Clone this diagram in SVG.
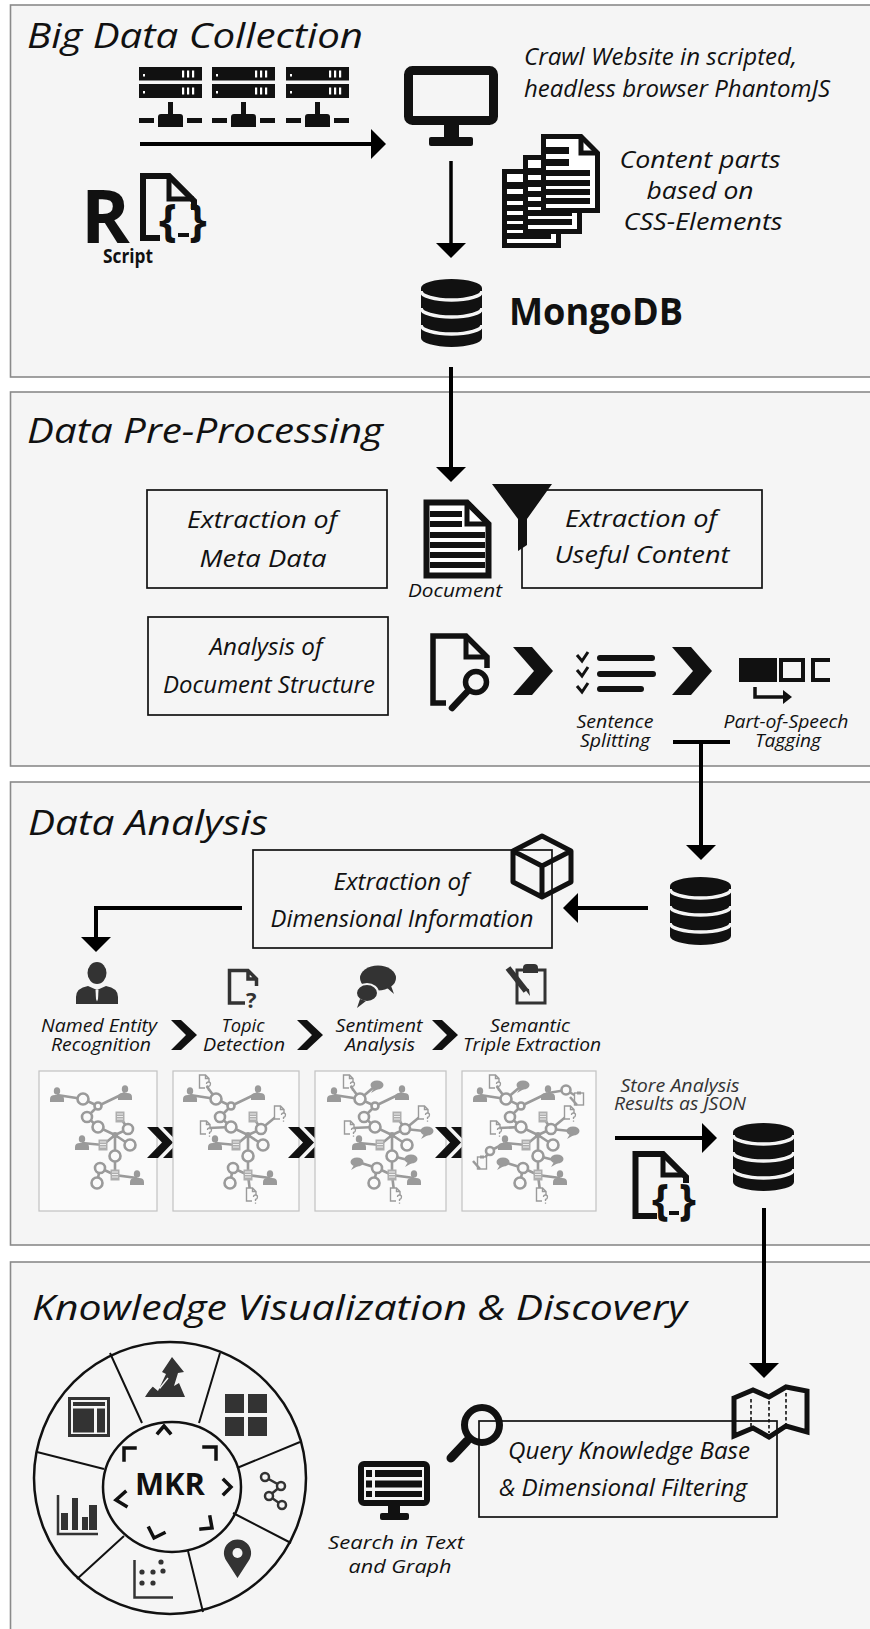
<svg xmlns="http://www.w3.org/2000/svg" width="870" height="1629" viewBox="0 0 870 1629">
<style>
text{font-family:"Open Sans","Liberation Sans",sans-serif;fill:#111}
.sec{fill:#f5f5f5;stroke:#8a8a8a;stroke-width:1.6}
.ttl{font-style:italic;font-size:35px}
.lb{font-style:italic;font-size:23px}
.sm{font-style:italic;font-size:19px}
.c{text-anchor:middle}
.b{font-weight:700;font-style:normal}
.box{fill:none;stroke:#111;stroke-width:1.7}
.conn{fill:none;stroke:#000;stroke-width:4}
.k{fill:#111}
.g{fill:#333}
.ko{fill:none;stroke:#111}
.go{fill:none;stroke:#333}
.thumb{fill:#fafafa;stroke:#c2c2c2;stroke-width:1.2}
.edge{fill:none;stroke:#9a9a9a;stroke-width:2.6}
.ring{fill:#fafafa;stroke:#9a9a9a;stroke-width:2.6}
.gi{fill:#9a9a9a}
.gio{fill:#fafafa;stroke:#9a9a9a;stroke-width:1.4}
.spoke{fill:none;stroke:#111;stroke-width:2}
.tip{fill:none;stroke:#111;stroke-width:3.5;stroke-linecap:square}
</style>
<defs>
  <marker id="ah" markerUnits="userSpaceOnUse" markerWidth="15" markerHeight="30" viewBox="0 0 15 30" refX="0" refY="15" orient="auto">
    <path d="M0,0 L15,15 L0,30 Z" fill="#000"/>
  </marker>
  <!-- rack server with network tap -->
  <g id="srv">
    <rect width="63" height="13.5" class="k"/>
    <rect y="17" width="63" height="14" class="k"/>
    <g fill="#fff">
      <rect x="4" y="7" width="2" height="2.5"/><rect x="4" y="24" width="2" height="2.5"/>
      <rect x="43" y="3.5" width="2.2" height="7"/><rect x="48" y="3.5" width="2.2" height="7"/><rect x="53" y="3.5" width="2.2" height="7"/>
      <rect x="43" y="20.5" width="2.2" height="7"/><rect x="48" y="20.5" width="2.2" height="7"/><rect x="53" y="20.5" width="2.2" height="7"/>
    </g>
    <rect x="29" y="35" width="5" height="12" class="k"/>
    <path d="M19,60 V50 Q19,47 22,47 H41 Q44,47 44,50 V60 Z" class="k"/>
    <rect y="51" width="15" height="5" class="k"/>
    <rect x="48" y="51" width="15" height="5" class="k"/>
  </g>
  <!-- database cylinder -->
  <g id="db">
    <path d="M0,9 A30.5,9 0 0 1 61,9 V59 A30.5,9 0 0 1 0,59 Z" fill="#111"/>
    <path d="M0,12 A30.5,9 0 0 0 61,12 M0,29 A30.5,9 0 0 0 61,29 M0,46 A30.5,9 0 0 0 61,46" fill="none" stroke="#f5f5f5" stroke-width="3.5"/>
  </g>
  <!-- page with text bars -->
  <g id="pdoc">
    <path d="M2.5,2.5 H40 L56.5,19 V76.5 H2.5 Z" fill="#fff" stroke="#111" stroke-width="5"/>
    <path d="M40,2.5 V19 H56.5" fill="none" stroke="#111" stroke-width="5"/>
    <g class="k">
      <rect x="2" y="13" width="26" height="7"/><rect x="2" y="25" width="26" height="7"/>
      <rect x="2" y="36" width="47" height="6"/><rect x="2" y="46" width="47" height="6"/>
      <rect x="2" y="55" width="47" height="6"/><rect x="2" y="64" width="47" height="6"/>
    </g>
  </g>
  <path id="chevL" d="M0,0 H19 L40,24 L19,48 H0 L21,24 Z"/>
  <path id="chevS" d="M0,0 H10 L26,15 L10,30 H0 L15,15 Z"/>
  <g id="chevD"><path d="M0,0 H11 L26,15.5 L11,31 H0 L15,15.5 Z"/><path d="M16,0 H27 L42,15.5 L27,31 H16 L31,15.5 Z"/></g>
  <!-- small graph glyphs -->
  <g id="tp" class="gi"><ellipse cx="0" cy="-4" rx="3.2" ry="3.8"/><path d="M-7,7 V4 Q-7,0 -2,0 H2 Q7,0 7,4 V7 Z"/></g>
  <g id="td"><rect x="-4.5" y="-5.5" width="9" height="11" fill="#aeaeae"/><path d="M-3,-3 H3 M-3,-0.5 H3 M-3,2 H3" stroke="#eee" stroke-width="1"/></g>
  <g id="tq"><path d="M1,6 H-4.5 V-7 H1.5 L5,-3.5 V0 M1.5,-7 V-3.5 H5" class="gio"/><path d="M2.5,2 Q2.5,0 4.5,0 Q6.5,0 6.5,2 Q6.5,4 4.5,4.5 V6 M4.5,7.5 V8.8" stroke="#9a9a9a" stroke-width="1.3" fill="none"/></g>
  <g id="tb" class="gi"><ellipse cx="0" cy="0" rx="6.5" ry="4.5"/><path d="M-3,3 L-6,8 L1,4 Z"/></g>
  <g id="tc"><rect x="-4.5" y="-6" width="9" height="12" class="gio"/><rect x="-2" y="-7.5" width="4" height="3" class="gi"/><path d="M-9,-2 L-2,6" stroke="#9a9a9a" stroke-width="2.5"/></g>
  <!-- entity graph used in each analysis stage -->
  <g id="gbase">
    <path class="edge" d="M18,24 L44,28 L59,35 L86,22 M59,35 L48,46 L59,56 L76,64 L89,58 L81,46 M76,64 L91,74 M76,64 L64,74 L43,72 M76,64 L76,85 L76,104 L98,107 M76,104 L61,97 L58,112"/>
    <circle class="ring" cx="44" cy="28" r="5.5"/>
    <circle class="ring" cx="59" cy="35" r="3.5"/>
    <circle class="ring" cx="48" cy="46" r="5"/>
    <circle class="ring" cx="59" cy="56" r="5.5"/>
    <circle class="ring" cx="89" cy="58" r="5"/>
    <circle class="ring" cx="91" cy="74" r="5.5"/>
    <circle class="ring" cx="76" cy="85" r="5.5"/>
    <circle class="ring" cx="61" cy="97" r="5"/>
    <circle class="ring" cx="58" cy="112" r="5.5"/>
    <circle class="gi" cx="76" cy="64" r="3"/>
    <use href="#tp" x="18" y="24"/><use href="#tp" x="86" y="22"/><use href="#tp" x="43" y="72"/><use href="#tp" x="98" y="107"/>
    <use href="#td" x="81" y="46"/><use href="#td" x="64" y="74"/><use href="#td" x="76" y="104"/>
  </g>
  <g id="gtopic">
    <path class="edge" d="M44,28 L33,13 M89,58 L106,44 M59,56 L37,57 M76,104 L78,120" stroke-width="1.6"/>
    <use href="#tq" x="32" y="11"/><use href="#tq" x="107" y="42"/><use href="#tq" x="33" y="57"/><use href="#tq" x="79" y="124"/>
  </g>
  <g id="gsent">
    <path class="edge" d="M44,28 L58,16 M89,58 L108,60 M61,97 L45,92 M76,85 L92,89" stroke-width="1.6"/>
    <use href="#tb" x="61" y="14"/><use href="#tb" x="111" y="60"/><use href="#tb" x="41" y="91"/><use href="#tb" x="95" y="88"/>
  </g>
</defs>

<!-- stage panels -->
<g id="panels">
  <rect class="sec" x="10.5" y="5" width="870" height="372"/>
  <rect class="sec" x="10.5" y="392" width="870" height="374"/>
  <rect class="sec" x="10.5" y="782" width="870" height="463"/>
  <rect class="sec" x="10.5" y="1262" width="870" height="400"/>
  <text class="ttl" x="27" y="48" font-size="34" textLength="336" lengthAdjust="spacingAndGlyphs">Big Data Collection</text>
  <text class="ttl" x="27" y="443" textLength="356" lengthAdjust="spacingAndGlyphs">Data Pre-Processing</text>
  <text class="ttl" x="28" y="835" textLength="240" lengthAdjust="spacingAndGlyphs">Data Analysis</text>
  <text class="ttl" x="32" y="1320" textLength="655" lengthAdjust="spacingAndGlyphs">Knowledge Visualization &amp; Discovery</text>
</g>

<!-- ===== Big Data Collection ===== -->
<g id="servers">
  <use href="#srv" x="139" y="67"/>
  <use href="#srv" x="212" y="67"/>
  <use href="#srv" x="286" y="67"/>
</g>
<g id="r-script">
  <text x="81" y="243" class="b" font-size="74">R</text>
  <text x="103" y="263" class="b" font-size="19" textLength="50" lengthAdjust="spacingAndGlyphs">Script</text>
  <path d="M160,238 H143 V176 H169 L194,201 V210" class="ko" stroke-width="6"/>
  <path d="M169,176 V199 H194" class="ko" stroke-width="5"/>
  <text x="159" y="236" class="b" font-size="45">{</text>
  <text x="189" y="236" class="b" font-size="45">}</text>
  <rect x="178" y="233" width="11" height="4" class="k"/>
</g>
<g id="browser">
  <rect x="408.5" y="70.5" width="85" height="50" rx="4" fill="none" stroke="#111" stroke-width="9"/>
  <rect x="444" y="125" width="15" height="13" class="k"/>
  <rect x="429" y="137" width="44" height="9" rx="2" class="k"/>
  <text class="lb" x="524" y="65" textLength="273" lengthAdjust="spacingAndGlyphs">Crawl Website in scripted,</text>
  <text class="lb" x="524" y="97" textLength="306" lengthAdjust="spacingAndGlyphs">headless browser PhantomJS</text>
</g>
<g id="content-parts">
  <use href="#pdoc" x="502" y="169"/>
  <use href="#pdoc" x="523" y="155"/>
  <use href="#pdoc" x="541" y="134"/>
  <text class="lb c" x="700" y="168" textLength="161" lengthAdjust="spacingAndGlyphs">Content parts</text>
  <text class="lb c" x="700" y="199" textLength="107" lengthAdjust="spacingAndGlyphs">based on</text>
  <text class="lb c" x="703" y="230" textLength="159" lengthAdjust="spacingAndGlyphs">CSS-Elements</text>
</g>
<g id="mongodb">
  <use href="#db" x="421" y="279"/>
  <text x="509" y="325" class="b" font-size="38" textLength="174" lengthAdjust="spacingAndGlyphs">MongoDB</text>
</g>

<!-- ===== Data Pre-Processing ===== -->
<g id="meta-data">
  <rect class="box" x="147" y="490" width="240" height="98"/>
  <text class="lb c" x="262" y="528" textLength="150" lengthAdjust="spacingAndGlyphs">Extraction of</text>
  <text class="lb c" x="263" y="567" textLength="127" lengthAdjust="spacingAndGlyphs">Meta Data</text>
</g>
<g id="doc-structure">
  <rect class="box" x="148" y="617" width="240" height="98"/>
  <text class="lb c" x="266" y="655" textLength="113" lengthAdjust="spacingAndGlyphs">Analysis of</text>
  <text class="lb c" x="269" y="693" textLength="212" lengthAdjust="spacingAndGlyphs">Document Structure</text>
</g>
<g id="document">
  <path d="M426.5,502.5 H467 L488.5,524 V575.5 H426.5 Z" fill="#fff" stroke="#111" stroke-width="6"/>
  <path d="M467,502 V524 H489" fill="none" stroke="#111" stroke-width="5"/>
  <g class="k">
    <rect x="430" y="511" width="32" height="6"/><rect x="430" y="521" width="32" height="6"/>
    <rect x="430" y="532" width="55" height="6"/><rect x="430" y="542" width="55" height="6"/>
    <rect x="430" y="552" width="55" height="6"/><rect x="430" y="562" width="55" height="6"/>
  </g>
  <text class="sm" x="408" y="597" textLength="94" lengthAdjust="spacingAndGlyphs">Document</text>
</g>
<g id="useful-content">
  <rect class="box" x="522" y="490" width="240" height="98"/>
  <text class="lb c" x="641" y="527" textLength="152" lengthAdjust="spacingAndGlyphs">Extraction of</text>
  <text class="lb c" x="642" y="563" textLength="175" lengthAdjust="spacingAndGlyphs">Useful Content</text>
  <path d="M492,484 H552 L527,519 V545 L518,551 V519 Z" class="k"/>
</g>
<g id="structure-steps">
  <path d="M446,703 H433 V636 H466 L487,657 V668" class="ko" stroke-width="5.5"/>
  <path d="M466,636 V657 H487" class="ko" stroke-width="5"/>
  <circle cx="476" cy="682" r="10.5" class="ko" stroke-width="5.5"/>
  <path d="M467,692 L452,708" stroke="#111" stroke-width="6.5" stroke-linecap="round"/>
  <use href="#chevL" x="513" y="647" fill="#111"/>
  <path d="M577,655 L582,661 L588,652 M577,670 L582,676 L588,667 M577,686 L582,692 L588,683" class="ko" stroke-width="3"/>
  <path d="M600,658 H652 M600,674 H653 M600,689 H641" stroke="#111" stroke-width="6" stroke-linecap="round"/>
  <use href="#chevL" x="672" y="647" fill="#111"/>
  <rect x="739" y="658" width="38" height="24" class="k"/>
  <rect x="781" y="660" width="22" height="20" class="ko" stroke-width="4"/>
  <path d="M830,660 H813 V680 H830" class="ko" stroke-width="4"/>
  <path d="M755,687 V697 H784" class="ko" stroke-width="3.5"/>
  <path d="M783,690 L792,697 L783,704 Z" class="k"/>
  <text class="sm c" x="615" y="728" textLength="77" lengthAdjust="spacingAndGlyphs">Sentence</text>
  <text class="sm c" x="615" y="747" textLength="70" lengthAdjust="spacingAndGlyphs">Splitting</text>
  <text class="sm c" x="786" y="728" textLength="125" lengthAdjust="spacingAndGlyphs">Part-of-Speech</text>
  <text class="sm c" x="788" y="747" textLength="66" lengthAdjust="spacingAndGlyphs">Tagging</text>
</g>

<!-- ===== Data Analysis ===== -->
<g id="dimensional">
  <rect class="box" x="253" y="850" width="299" height="98"/>
  <text class="lb c" x="401" y="890" font-size="22" textLength="135" lengthAdjust="spacingAndGlyphs">Extraction of</text>
  <text class="lb c" x="402" y="927" font-size="22" textLength="263" lengthAdjust="spacingAndGlyphs">Dimensional Information</text>
  <path d="M542,836 L571,851 V882 L542,897 L513,882 V851 Z M513,851 L542,866 L571,851 M542,866 V897" fill="none" stroke="#111" stroke-width="5" stroke-linejoin="round"/>
</g>
<g id="db-processed"><use href="#db" x="670" y="877"/></g>
<g id="steps">
  <ellipse cx="97" cy="973" rx="9.5" ry="11" class="g"/>
  <path d="M76,1004 V997 Q76,988 88,986 L97,990 L106,986 Q118,988 118,997 V1004 Z" class="g"/>
  <path d="M95.5,990 H98.5 L98,999 L97,1001.5 L96,999 Z" fill="#f5f5f5"/>
  <path d="M245,1003 H229.5 V970.5 H248 L256.5,979 V986 M248,970.5 V979 H256.5" class="go" stroke-width="3.5"/>
  <text x="246" y="1008" class="b" font-size="22" style="fill:#333">?</text>
  <ellipse cx="378" cy="978" rx="18" ry="12.5" class="g"/>
  <path d="M386,987 L394,994 L390,983 Z" class="g"/>
  <ellipse cx="367" cy="993" rx="11" ry="9" class="g" stroke="#f5f5f5" stroke-width="2"/>
  <path d="M360,999 L357,1008 L366,1001 Z" class="g"/>
  <rect x="517" y="970" width="28" height="33" class="go" stroke-width="3"/>
  <path d="M523,973 V968 Q523,964 527,964 H534 Q538,964 538,968 V973 Z" class="g"/>
  <path d="M508,968 L526,991" stroke="#333" stroke-width="6"/>
  <path d="M524,988 L530,996 L529,989 Z" class="g"/>
  <text class="sm c" x="99" y="1032" textLength="116" lengthAdjust="spacingAndGlyphs">Named Entity</text>
  <text class="sm c" x="101" y="1051" textLength="100" lengthAdjust="spacingAndGlyphs">Recognition</text>
  <use href="#chevS" x="171" y="1020" fill="#111"/>
  <text class="sm c" x="243" y="1032" textLength="43" lengthAdjust="spacingAndGlyphs">Topic</text>
  <text class="sm c" x="244" y="1051" textLength="82" lengthAdjust="spacingAndGlyphs">Detection</text>
  <use href="#chevS" x="297" y="1020" fill="#111"/>
  <text class="sm c" x="379" y="1032" textLength="87" lengthAdjust="spacingAndGlyphs">Sentiment</text>
  <text class="sm c" x="380" y="1051" textLength="70" lengthAdjust="spacingAndGlyphs">Analysis</text>
  <use href="#chevS" x="432" y="1020" fill="#111"/>
  <text class="sm c" x="530" y="1032" textLength="80" lengthAdjust="spacingAndGlyphs">Semantic</text>
  <text class="sm c" x="532" y="1051" textLength="138" lengthAdjust="spacingAndGlyphs">Triple Extraction</text>
</g>
<g id="graph-stages">
  <rect class="thumb" x="39" y="1071" width="118" height="140"/>
  <use href="#gbase" x="39" y="1071"/>
  <use href="#chevD" x="147" y="1127" fill="#111"/>
  <rect class="thumb" x="173" y="1071" width="126" height="140"/>
  <g transform="translate(172,1071)"><use href="#gtopic"/><use href="#gbase"/></g>
  <use href="#chevD" x="288" y="1127" fill="#111"/>
  <rect class="thumb" x="315" y="1071" width="131" height="140"/>
  <g transform="translate(316,1071)"><use href="#gtopic"/><use href="#gsent"/><use href="#gbase"/></g>
  <use href="#chevD" x="435" y="1127" fill="#111"/>
  <rect class="thumb" x="462" y="1071" width="134" height="140"/>
  <g transform="translate(462,1071)">
    <use href="#gtopic"/><use href="#gsent"/>
    <path class="edge" d="M86,22 L104,19 L114,25 M43,72 L28,80 L22,88" stroke-width="1.6"/>
    <circle class="ring" cx="104" cy="19" r="4.5"/>
    <circle class="ring" cx="28" cy="80" r="4"/>
    <use href="#tc" x="117" y="28"/><use href="#tc" x="20" y="92"/>
    <use href="#gbase"/>
  </g>
</g>
<g id="store-json">
  <text class="sm c" x="680" y="1092" font-size="18" style="fill:#333" textLength="119" lengthAdjust="spacingAndGlyphs">Store Analysis</text>
  <text class="sm c" x="680" y="1110" font-size="18" style="fill:#333" textLength="132" lengthAdjust="spacingAndGlyphs">Results as JSON</text>
  <path d="M657,1216 H635.5 V1154 H663 L686,1177 V1183" class="ko" stroke-width="6"/>
  <path d="M663,1154 V1175 H686" class="ko" stroke-width="5"/>
  <text x="652" y="1215" class="b" font-size="43">{</text>
  <text x="679" y="1215" class="b" font-size="43">}</text>
  <rect x="669" y="1211" width="10" height="4" class="k"/>
</g>
<g id="db-results"><use href="#db" x="733" y="1123"/></g>

<!-- ===== Knowledge Visualization & Discovery ===== -->
<g id="mkr-wheel">
  <circle cx="170" cy="1478" r="136" fill="none" stroke="#111" stroke-width="2.5"/>
  <ellipse cx="172" cy="1487" rx="69" ry="65" fill="none" stroke="#111" stroke-width="2.5"/>
  <path class="spoke" d="M110,1353 L142,1423 M220,1353 L199,1423 M300,1442 L237,1468 M291,1543 L233,1513 M203,1612 L188,1551 M77,1579 L124,1536 M37,1452 L104,1469"/>
  <text x="170" y="1495" class="b c" font-size="31" textLength="70" lengthAdjust="spacingAndGlyphs">MKR</text>
  <path class="tip" d="M158,1433 L164,1426 L170,1433 M124,1460 V1448 H135 M204,1447 H216 V1459 M224,1480 L231,1487 L224,1494 M210,1517 L212,1528 L201,1529 M149,1528 L154,1538 L164,1533 M125,1492 L116,1500 L126,1506"/>
  <rect x="69.5" y="1398.5" width="39" height="37" class="go" stroke-width="3"/>
  <rect x="73" y="1402" width="32" height="4" class="g"/>
  <rect x="73" y="1408.5" width="21" height="24" class="g"/>
  <rect x="97" y="1408.5" width="8" height="24" class="g"/>
  <path d="M145,1397 L152,1386 L158,1391 L166,1374 L162,1372 L172,1357 L184,1372 L178,1373 L174,1386 L179,1383 L185,1397 Z" class="g"/>
  <path d="M146,1393 L155,1383 L160,1388 L168,1378" stroke="#f5f5f5" stroke-width="1.5" fill="none"/>
  <rect x="225" y="1394" width="19" height="19" class="g"/><rect x="248" y="1394" width="19" height="19" class="g"/>
  <rect x="225" y="1417" width="19" height="19" class="g"/><rect x="248" y="1417" width="19" height="19" class="g"/>
  <path d="M265,1477 L281,1486 L269,1496 L282,1505" class="go" stroke-width="2.5"/>
  <g fill="#f5f5f5" stroke="#333" stroke-width="2.5">
    <circle cx="265" cy="1477" r="4"/><circle cx="281" cy="1486" r="4"/><circle cx="269" cy="1496" r="4"/><circle cx="282" cy="1505" r="4"/>
  </g>
  <path d="M237.5,1578 L226.5,1561 A13.6,13.6 0 1 1 248.5,1561 Z" class="g"/>
  <circle cx="237.5" cy="1553" r="5" fill="#f5f5f5"/>
  <path d="M134.5,1560 V1597.5 H173" class="go" stroke-width="2.5"/>
  <g class="g"><circle cx="142" cy="1572" r="2.6"/><circle cx="153" cy="1572" r="2.6"/><circle cx="163" cy="1571" r="2.6"/><circle cx="161" cy="1562" r="2.6"/><circle cx="142" cy="1583" r="2.6"/><circle cx="153" cy="1583" r="2.6"/></g>
  <path d="M58,1495 V1534 H98" class="go" stroke-width="2.5"/>
  <rect x="61" y="1513" width="7" height="17" class="g"/><rect x="72" y="1498" width="6" height="32" class="g"/>
  <rect x="82" y="1517" width="6" height="13" class="g"/><rect x="89" y="1505" width="8" height="25" class="g"/>
</g>
<g id="search">
  <rect x="361" y="1464" width="66" height="39" rx="3" class="ko" stroke-width="6"/>
  <g class="k">
    <rect x="366" y="1470" width="6" height="7"/><rect x="375" y="1470" width="47" height="7"/>
    <rect x="366" y="1480.5" width="6" height="7"/><rect x="375" y="1480.5" width="47" height="7"/>
    <rect x="366" y="1491" width="6" height="6"/><rect x="375" y="1491" width="47" height="6"/>
  </g>
  <rect x="388" y="1505" width="12" height="9" class="k"/>
  <rect x="380" y="1513" width="29" height="7" rx="2" class="k"/>
  <text class="sm c" x="396" y="1549" textLength="136" lengthAdjust="spacingAndGlyphs">Search in Text</text>
  <text class="sm c" x="400" y="1573" textLength="103" lengthAdjust="spacingAndGlyphs">and Graph</text>
</g>
<g id="query">
  <rect class="box" x="479" y="1421" width="298" height="96"/>
  <text class="lb c" x="629" y="1459" font-size="22" textLength="242" lengthAdjust="spacingAndGlyphs">Query Knowledge Base</text>
  <text class="lb c" x="623" y="1496" font-size="22" textLength="248" lengthAdjust="spacingAndGlyphs">&amp; Dimensional Filtering</text>
  <circle cx="482" cy="1425" r="17.5" class="ko" stroke-width="7"/>
  <path d="M467,1441 L451,1458" stroke="#111" stroke-width="9" stroke-linecap="round"/>
  <path d="M734,1398 L753,1390 L769,1397 L786,1387 L807,1391 V1432 L786,1426 L769,1437 L753,1428 L734,1436 Z" class="ko" stroke-width="5"/>
  <path d="M751,1399 V1430 M769,1401 V1433 M786,1393 V1424" class="ko" stroke-width="1.6" stroke-dasharray="3.5,2.5"/>
</g>

<!-- data flow -->
<g id="connectors" class="conn">
  <path d="M140,144 H371" marker-end="url(#ah)"/>
  <path d="M451,161 V243" stroke-width="3.5" marker-end="url(#ah)"/>
  <path d="M451,367 V467" marker-end="url(#ah)"/>
  <path d="M673,742 H730 M701,742 V845" marker-end="url(#ah)"/>
  <path d="M648,908 H578" marker-end="url(#ah)"/>
  <path d="M242,908 H96 V937" marker-end="url(#ah)"/>
  <path d="M615,1138 H702" marker-end="url(#ah)"/>
  <path d="M764,1208 V1363" marker-end="url(#ah)"/>
</g>
</svg>
